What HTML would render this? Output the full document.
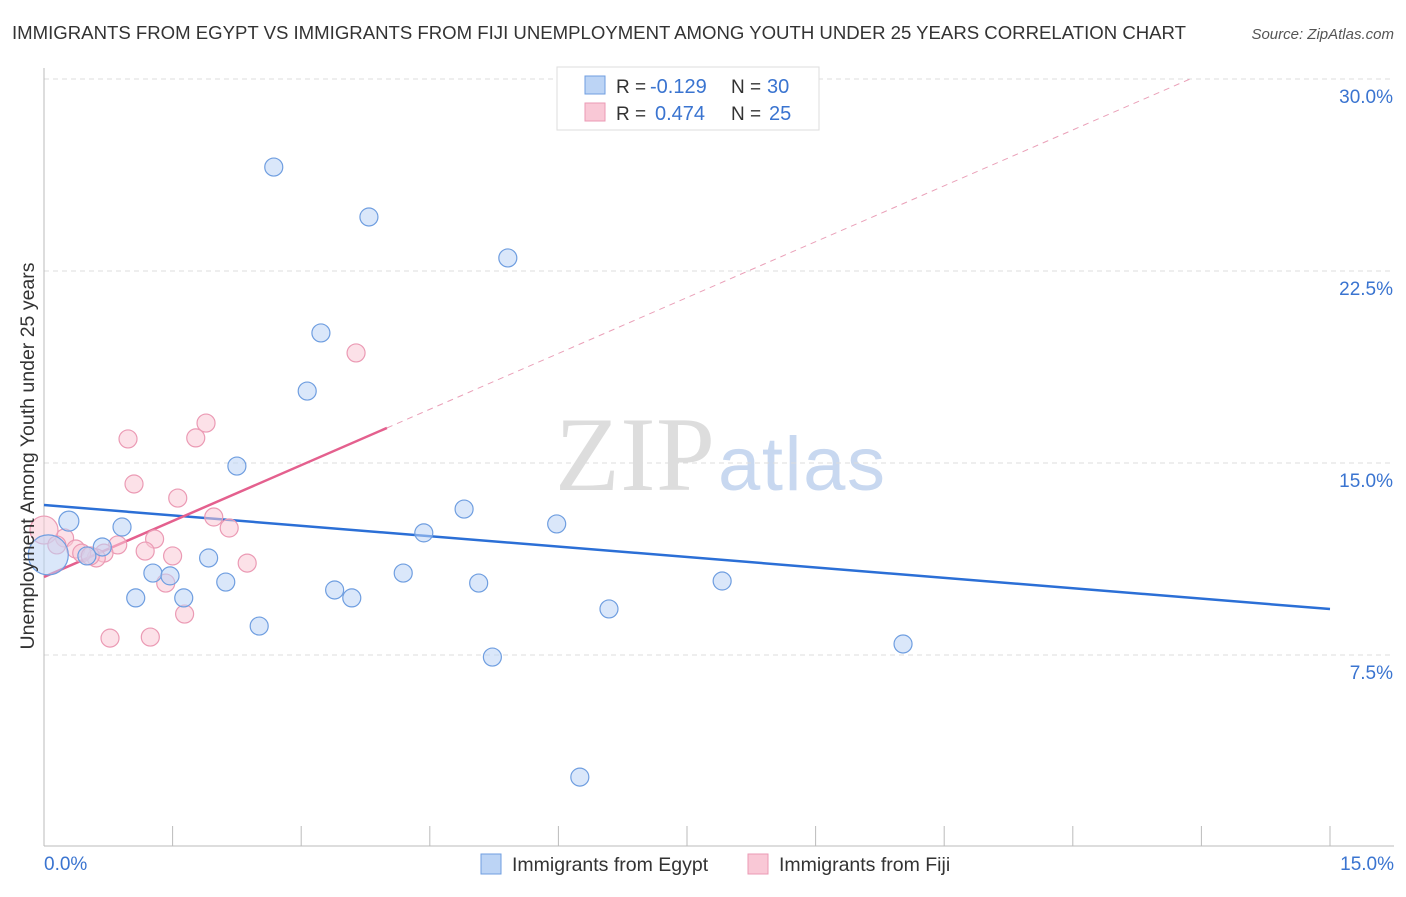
<!DOCTYPE html>
<html><head><meta charset="utf-8"><style>
body{margin:0;background:#fff;font-family:"Liberation Sans",sans-serif}
</style></head><body>
<svg width="1406" height="892" xmlns="http://www.w3.org/2000/svg" id="svg">
<text x="12" y="39" font-size="18.6" fill="#333" textLength="1174">IMMIGRANTS FROM EGYPT VS IMMIGRANTS FROM FIJI UNEMPLOYMENT AMONG YOUTH UNDER 25 YEARS CORRELATION CHART</text>
<text x="1394" y="39" font-size="15" fill="#555" font-style="italic" text-anchor="end">Source: ZipAtlas.com</text>
<text x="555" y="490" font-size="106" fill="#ddd" textLength="160" font-family="Liberation Serif,serif">ZIP</text>
<text x="718" y="490" font-size="76" fill="#c8d8f0" textLength="167">atlas</text>
<g id="grid"></g><g id="axes"></g><g id="lines"></g><g id="pts"></g>
<text transform="translate(34,456) rotate(-90)" font-size="19.5" fill="#333" text-anchor="middle">Unemployment Among Youth under 25 years</text>
<g>
<rect x="557" y="67" width="262" height="63" fill="#fff" stroke="#ddd"/>
<rect x="585" y="76" width="20" height="18" fill="#bcd4f5" stroke="#6f9ee0"/>
<rect x="585" y="103" width="20" height="18" fill="#f9c8d6" stroke="#eb9ab4"/>
<text x="616" y="93" font-size="19" fill="#333">R =</text>
<text x="650" y="93" font-size="20" fill="#3a74d0">-0.129</text>
<text x="731" y="93" font-size="19" fill="#333">N =</text>
<text x="767" y="93" font-size="20" fill="#3a74d0">30</text>
<text x="616" y="120" font-size="19" fill="#333">R =</text>
<text x="655" y="120" font-size="20" fill="#3a74d0">0.474</text>
<text x="731" y="120" font-size="19" fill="#333">N =</text>
<text x="769" y="120" font-size="20" fill="#3a74d0">25</text>
</g>
<g>
<rect x="481" y="854" width="20" height="20" fill="#bcd4f5" stroke="#6f9ee0"/>
<text x="512" y="871" font-size="19.5" fill="#333">Immigrants from Egypt</text>
<rect x="748" y="854" width="20" height="20" fill="#f9c8d6" stroke="#eb9ab4"/>
<text x="779" y="871" font-size="19.5" fill="#333">Immigrants from Fiji</text>
</g>
</svg>
<script>
const yTicks=[7.5,15,22.5,30];
const yTickLabels=["7.5%","15.0%","22.5%","30.0%"];
const egyptX=[2.68,3.79,5.41,3.23,3.07,2.25,0.29,0.91,4.90,5.98,4.43,0.68,0.50,1.92,1.27,1.47,4.19,2.12,5.07,7.91,3.39,1.07,1.63,3.59,6.59,2.51,5.23,10.02,6.25,0.05];
const egyptY=[26.56,24.61,23.01,20.08,17.81,14.88,12.73,12.50,13.20,12.62,12.27,11.72,11.37,11.29,10.70,10.59,10.70,10.35,10.31,10.39,10.04,9.73,9.73,9.73,9.30,8.63,7.42,7.93,2.73,11.41];
const egyptR=[9,9,9,9,9,9,10,9,9,9,9,9,9,9,9,9,9,9,9,9,9,9,9,9,9,9,9,9,9,20];
const fijiX=[3.64,1.89,0.98,1.77,1.05,1.56,1.98,2.16,0.24,1.29,0.86,1.18,1.50,0.70,0.37,0.61,2.37,1.42,1.64,0.77,1.24,0.0,0.15,0.44,0.54];
const fijiY=[19.30,16.56,15.94,15.98,14.18,13.63,12.89,12.46,12.07,12.03,11.80,11.56,11.37,11.48,11.64,11.29,11.09,10.31,9.10,8.16,8.20,12.38,11.80,11.48,11.37];
const fijiR=[9,9,9,9,9,9,9,9,9,9,9,9,9,9,9,9,9,9,9,9,9,14,9,9,9];
const egyptTrend=[13.36,-0.271];
const fijiTrend=[10.55,1.455];
const fijiSolidEnd=4.0;
const NS="http://www.w3.org/2000/svg";
const X=v=>44+v/15*1286, Y=v=>847-v/7.5*192;
function mk(t,a,p){const e=document.createElementNS(NS,t);for(const k in a)e.setAttribute(k,a[k]);document.getElementById(p).appendChild(e);return e;}
yTicks.forEach((t,i)=>{
 const g=mk('line',{x1:44,x2:1394,y1:Y(t),y2:Y(t),stroke:'#ddd','stroke-dasharray':'5,4'},'grid');
 
 
 const l=mk('text',{x:1393,y:Y(t)+24,'font-size':19,fill:'#3a74d0','text-anchor':'end'},'axes');l.textContent=yTickLabels[i];
 
 
});
const ax=mk('line',{x1:44,x2:44,y1:68,y2:846,stroke:'#bbb'},'axes');


const bx=mk('line',{x1:44,x2:1394,y1:846,y2:846,stroke:'#bbb'},'axes');


for(let i=0;i<=10;i++){const t=mk('line',{x1:X(i*1.5),x2:X(i*1.5),y1:826,y2:846,stroke:'#bbb'},'axes');
 
 }
[[0,"0.0%","start",44],[15,"15.0%","end",1394]].forEach(d=>{const t=mk('text',{x:d[3],y:870,'font-size':19,fill:'#3a74d0','text-anchor':d[2]},'axes');t.textContent=d[1];
 
 });
function pts(xs,ys,rs,f,s,n){xs.forEach((x,i)=>{const c=mk('circle',{cx:X(x),cy:Y(ys[i]),r:rs[i],fill:f,'fill-opacity':0.55,stroke:s,'stroke-width':1.2},'pts');
 
 });}
pts(fijiX,fijiY,fijiR,'#f9c8d6','#eb9ab4','fiji-point');
pts(egyptX,egyptY,egyptR,'#bcd4f5','#6f9ee0','egypt-point');
let l1=mk('line',{x1:X(0),y1:Y(egyptTrend[0]),x2:X(15),y2:Y(egyptTrend[0]+egyptTrend[1]*15),stroke:'#2b6fd6','stroke-width':2.5},'lines');


const fx=fijiSolidEnd, xe=(30-fijiTrend[0])/fijiTrend[1];
let l2=mk('line',{x1:X(0),y1:Y(fijiTrend[0]),x2:X(fx),y2:Y(fijiTrend[0]+fijiTrend[1]*fx),stroke:'#e4608e','stroke-width':2.5},'lines');


let l3=mk('line',{x1:X(fx),y1:Y(fijiTrend[0]+fijiTrend[1]*fx),x2:X(xe),y2:Y(30),stroke:'#eaa0b8','stroke-width':1,'stroke-dasharray':'6,5'},'lines');


</script>
</body></html>
